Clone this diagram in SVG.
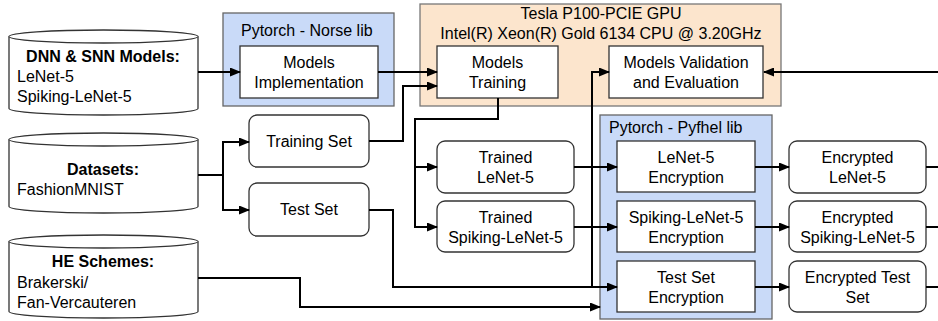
<svg xmlns="http://www.w3.org/2000/svg" width="938" height="321" viewBox="0 0 938 321">
<style>
text{font-family:"Liberation Sans",Arial,sans-serif;font-size:16px;fill:#000}
.b{font-weight:bold}
.c{text-anchor:middle}
.box{fill:#fff;stroke:#333;stroke-width:1.3}
.cyl{fill:#fff;stroke:#333;stroke-width:1.3}
.blue{fill:#c9daf8;stroke:#666;stroke-width:1.3}
.orange{fill:#fce5cd;stroke:#777;stroke-width:1.3}
.ln{fill:none;stroke:#000;stroke-width:2}
.arr{marker-end:url(#ah)}
</style>
<defs>
<marker id="ah" markerUnits="userSpaceOnUse" markerWidth="11" markerHeight="9" refX="10" refY="4.5" orient="auto">
<path d="M0,0 L11,4.5 L0,9 z" fill="#000"/>
</marker>
</defs>
<rect width="938" height="321" fill="#fff"/>

<g id="norse">
<rect class="blue" x="223" y="13" width="171" height="93"/>
<text x="241" y="36">Pytorch - Norse lib</text>
</g>
<g id="gpu">
<rect class="orange" x="420" y="4" width="361" height="102"/>
<text class="c" x="601" y="19">Tesla P100-PCIE GPU</text>
<text class="c" x="601" y="39">Intel(R) Xeon(R) Gold 6134 CPU @ 3.20GHz</text>
</g>
<g id="pyfhel">
<rect class="blue" x="600" y="115" width="172" height="204"/>
<text x="609" y="133">Pytorch - Pyfhel lib</text>
</g>

<g id="dnn">
<path class="cyl" d="M9,36.5 A94.5,6.5 0 0 1 198,36.5 V108.5 A94.5,6.5 0 0 1 9,108.5 Z"/>
<path class="cyl" d="M9,36.5 A94.5,6.5 0 0 0 198,36.5" fill="none"/>
<text class="b c" x="103" y="62">DNN &amp; SNN Models:</text>
<text x="17" y="82">LeNet-5</text>
<text x="17" y="102">Spiking-LeNet-5</text>
</g>
<g id="datasets">
<path class="cyl" d="M9,139.5 A94.5,6.5 0 0 1 198,139.5 V206.5 A94.5,6.5 0 0 1 9,206.5 Z"/>
<path class="cyl" d="M9,139.5 A94.5,6.5 0 0 0 198,139.5" fill="none"/>
<text class="b c" x="103" y="175">Datasets:</text>
<text x="17" y="195">FashionMNIST</text>
</g>
<g id="he">
<path class="cyl" d="M9,241.5 A94.5,6.5 0 0 1 198,241.5 V311.5 A94.5,6.5 0 0 1 9,311.5 Z"/>
<path class="cyl" d="M9,241.5 A94.5,6.5 0 0 0 198,241.5" fill="none"/>
<text class="b c" x="103" y="267">HE Schemes:</text>
<text x="17" y="288">Brakerski/</text>
<text x="17" y="308">Fan-Vercauteren</text>
</g>

<g id="impl">
<rect class="box" x="240" y="46" width="138" height="52"/>
<text class="c" x="309" y="68">Models</text>
<text class="c" x="309" y="88">Implementation</text>
</g>
<g id="training">
<rect class="box" x="437" y="46" width="121" height="52"/>
<text class="c" x="497.5" y="68">Models</text>
<text class="c" x="497.5" y="88">Training</text>
</g>
<g id="validation">
<rect class="box" x="609" y="46" width="154" height="52"/>
<text class="c" x="686" y="68">Models Validation</text>
<text class="c" x="686" y="88">and Evaluation</text>
</g>
<g id="trainset">
<rect class="box" x="249" y="115" width="120" height="52" rx="8"/>
<text class="c" x="309" y="147">Training Set</text>
</g>
<g id="testset">
<rect class="box" x="249" y="183" width="120" height="53" rx="8"/>
<text class="c" x="309" y="215">Test Set</text>
</g>
<g id="trained-lenet">
<rect class="box" x="437" y="141" width="137" height="52" rx="8"/>
<text class="c" x="505.5" y="163">Trained</text>
<text class="c" x="505.5" y="183">LeNet-5</text>
</g>
<g id="trained-spiking">
<rect class="box" x="437" y="201" width="137" height="51" rx="8"/>
<text class="c" x="505.5" y="223">Trained</text>
<text class="c" x="505.5" y="243">Spiking-LeNet-5</text>
</g>
<g id="enc-lenet">
<rect class="box" x="617" y="141" width="138" height="51"/>
<text class="c" x="686" y="163">LeNet-5</text>
<text class="c" x="686" y="183">Encryption</text>
</g>
<g id="enc-spiking">
<rect class="box" x="617" y="201" width="138" height="51"/>
<text class="c" x="686" y="223">Spiking-LeNet-5</text>
<text class="c" x="686" y="243">Encryption</text>
</g>
<g id="enc-test">
<rect class="box" x="617" y="261" width="138" height="51"/>
<text class="c" x="686" y="283">Test Set</text>
<text class="c" x="686" y="303">Encryption</text>
</g>
<g id="out-lenet">
<rect class="box" x="789" y="141" width="137" height="52" rx="8"/>
<text class="c" x="857.5" y="163">Encrypted</text>
<text class="c" x="857.5" y="183">LeNet-5</text>
</g>
<g id="out-spiking">
<rect class="box" x="789" y="201" width="137" height="51" rx="8"/>
<text class="c" x="857.5" y="223">Encrypted</text>
<text class="c" x="857.5" y="243">Spiking-LeNet-5</text>
</g>
<g id="out-test">
<rect class="box" x="789" y="261" width="137" height="51" rx="8"/>
<text class="c" x="857.5" y="283">Encrypted Test</text>
<text class="c" x="857.5" y="303">Set</text>
</g>

<g id="connectors">
<path class="ln arr" d="M198,72 H240"/>
<path class="ln arr" d="M378,72 H437"/>
<path class="ln arr" d="M369,141 H403 V86 H437"/>
<path class="ln" d="M198,175 H223"/>
<path class="ln arr" d="M223,175 V142 H249"/>
<path class="ln arr" d="M223,175 V210 H249"/>
<path class="ln arr" d="M498,98 V119 H415 V227 H437"/>
<path class="ln arr" d="M415,167 H437"/>
<path class="ln arr" d="M369,210 H393 V287 H617"/>
<path class="ln arr" d="M592,287 V72 H609"/>
<path class="ln arr" d="M938,72 H764"/>
<path class="ln arr" d="M198,278 H300 V307 H600"/>
<path class="ln arr" d="M574,167 H617"/>
<path class="ln arr" d="M574,227 H617"/>
<path class="ln arr" d="M755,167 H789"/>
<path class="ln arr" d="M755,227 H789"/>
<path class="ln arr" d="M755,287 H789"/>
<path class="ln" d="M926,167 H938"/>
<path class="ln" d="M926,227 H938"/>
<path class="ln" d="M926,287 H938"/>
</g>
</svg>
